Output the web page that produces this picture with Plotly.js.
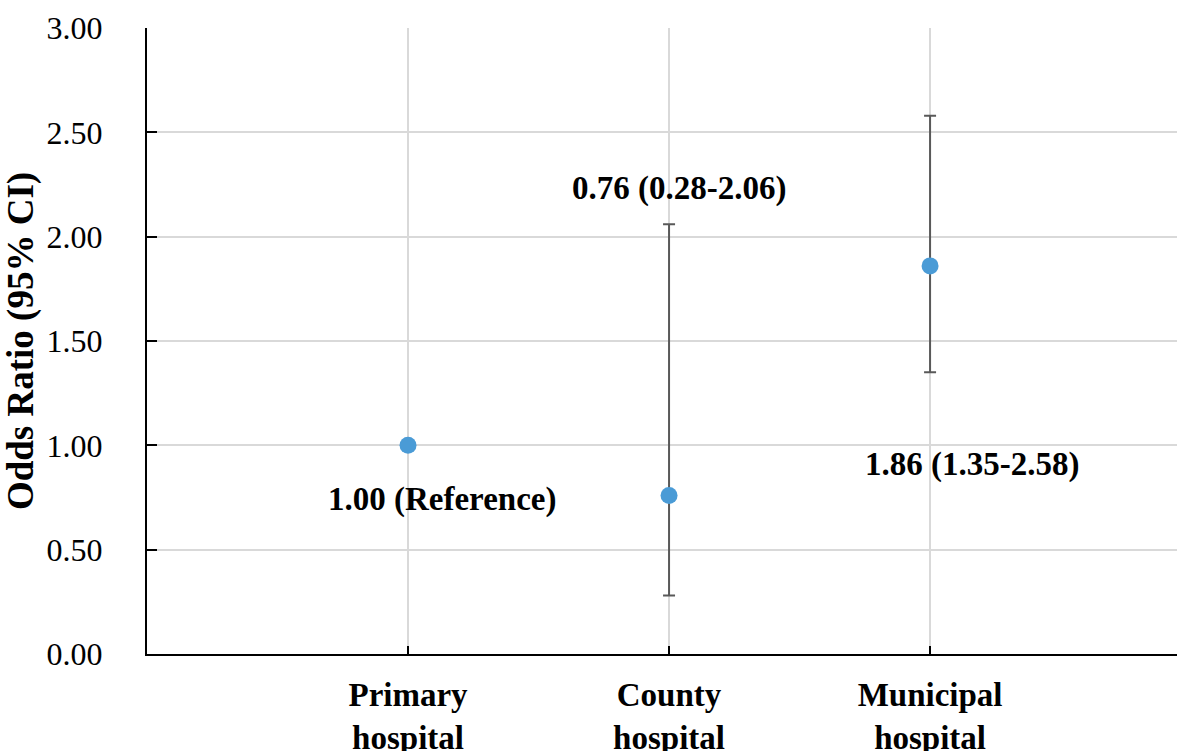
<!DOCTYPE html>
<html>
<head>
<meta charset="utf-8">
<script src="https://cdn.plot.ly/plotly-3.0.1.min.js"></script>
<style>html,body{margin:0;padding:0;background:#fff;}#chart{width:1177px;height:751px;}</style>
</head>
<body>
<div id="chart"></div>
<script>
const categories = ["Primary<br>hospital", "County<br>hospital", "Municipal<br>hospital"];
const oddsRatio = [1.00, 0.76, 1.86];
const ciLower = [null, 0.28, 1.35];
const ciUpper = [null, 2.06, 2.58];
const labels = ["1.00 (Reference)", "0.76 (0.28-2.06)", "1.86 (1.35-2.58)"];
const yTicks = [0, 0.5, 1, 1.5, 2, 2.5, 3];

const errPlus = oddsRatio.map((v, i) => ciUpper[i] == null ? 0 : ciUpper[i] - v);
const errMinus = oddsRatio.map((v, i) => ciLower[i] == null ? 0 : v - ciLower[i]);

const serif = "Liberation Serif, Times New Roman, serif";

const trace = {
  type: "scatter",
  mode: "markers",
  x: categories,
  y: oddsRatio,
  marker: {color: "#4A9BD6", size: 17},
  error_y: {
    type: "data", symmetric: false,
    array: errPlus, arrayminus: errMinus,
    color: "#595959", thickness: 2, width: 6,
    visible: true
  },
  hoverinfo: "none",
  showlegend: false
};

// annotation anchor offsets (layout positions relative to each category)
const annX = [0.13, 1.04, 2.16];
const annY = [0.74, 2.23, 0.91];

const layout = {
  width: 1177, height: 751,
  margin: {l: 147, r: 0, t: 28, b: 97, pad: 0},
  paper_bgcolor: "#fff", plot_bgcolor: "#fff",
  font: {family: serif, color: "#000"},
  xaxis: {
    type: "category",
    range: [-1, 2.946],
    showline: true, linecolor: "#000", linewidth: 2,
    ticks: "inside", ticklen: 8, tickcolor: "#000", tickwidth: 2,
    showgrid: true, gridcolor: "#d9d9d9", gridwidth: 2,
    zeroline: false,
    tickfont: {family: serif, size: 33, color: "#000", weight: "bold"},
    ticklabelstandoff: 10,
    fixedrange: true
  },
  yaxis: {
    range: [0, 3],
    tickvals: yTicks,
    tickformat: ".2f",
    showline: true, linecolor: "#000", linewidth: 2,
    ticks: "inside", ticklen: 10, tickcolor: "#000", tickwidth: 2,
    showgrid: true, gridcolor: "#d9d9d9", gridwidth: 2,
    zeroline: false,
    tickfont: {family: serif, size: 32, color: "#000"},
    ticklabelstandoff: 36,
    title: {text: "<b>Odds Ratio (95% CI)</b>", font: {family: serif, size: 37, color: "#000"}, standoff: 12},
    fixedrange: true
  },
  annotations: labels.map((t, i) => ({
    x: annX[i], y: annY[i], xref: "x", yref: "y",
    text: "<b>" + t + "</b>", showarrow: false,
    font: {family: serif, size: 33, color: "#000"},
    xanchor: "center", yanchor: "middle"
  }))
};

Plotly.newPlot("chart", [trace], layout, {staticPlot: true, displayModeBar: false});
</script>
</body>
</html>
